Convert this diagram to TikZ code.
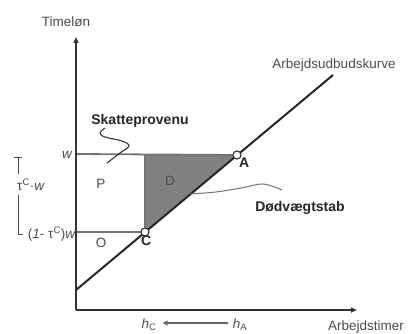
\documentclass[tikz,border=0pt]{standalone}
\usepackage{fontspec}
\setmainfont{Liberation Sans}
\usetikzlibrary{positioning, arrows.meta, calc}

\begin{document}
\begin{tikzpicture}[x=1pt, y=-1pt,
    lbl/.style={text=black!70, font=\fontsize{13.5}{15}\selectfont, inner sep=0pt},
    bold/.style={text=black!85, font=\fontsize{14}{16}\selectfont\bfseries, inner sep=0pt},
    pt/.style={circle, draw=black!85, fill=white, line width=0.9pt, minimum size=8pt, inner sep=0pt},
    axis/.style={line width=1.6pt, draw=black!80, -{Triangle[length=6pt, width=5pt]}},
    guide/.style={line width=1.8pt, draw=black!55}]
  \useasboundingbox (0,0) rectangle (410,334);
  % points
  \coordinate (orig) at (76,310);
  \coordinate (ytop) at (76,37);
  \coordinate (xend) at (357,310);
  \coordinate (s0) at (76,290);
  \coordinate (s1) at (333,75);
  \coordinate (wl) at (76,154);
  \coordinate (cl) at (76,232);
  \coordinate (dt) at (145,154);
  \node[pt] (A) at (237,155) {};
  \node[pt] (C) at (145,232) {};

  % deadweight triangle
  \fill[black!50] (dt) -- (A.center) -- (C.center) -- cycle;
  \draw[guide] (wl) -- (A);
  \draw[guide] (cl) -- (C);
  \draw[guide] (dt) -- (C);

  % axes and supply curve
  \draw[axis] (orig) -- (ytop);
  \draw[axis] (orig) -- (xend);
  \draw[line width=2pt, black!85] (s0) -- (s1);
  \node[pt] at (A) {};
  \node[pt] at (C) {};

  % labels
  \node[lbl] (tl) at (66,22) {Timeløn};
  \node[lbl] (ak) at (334,65) {Arbejdsudbudskurve};
  \node[lbl] (at) at (366,327) {Arbejdstimer};
  \node[lbl, anchor=east] (w) at (72,155) {\itshape w};
  \node[lbl, anchor=east] (cw) at (76,234) {(\textit{1}- τ\textsuperscript{C})\textit{w}};
  \node[lbl] (tw) at (31,185) {τ\textsuperscript{C}·\textit{w}};
  \node[lbl] (P) at (101,184) {P};
  \node[lbl] (O) at (101,243) {O};
  \node[lbl] (D) at (170,181) {D};
  \node[bold, below right=3pt and 2pt of A.center] (la) {A};
  \node[bold, below right=4pt and -4pt of C.center] (lc) {C};
  \node[bold] (sk) at (140,121) {Skatteprovenu};
  \node[bold] (dv) at (300,208) {Dødvægtstab};
  \node[lbl] (hc) at (149,325) {\textit{h}\textsubscript{C}};
  \node[lbl] (ha) at (240,325) {\textit{h}\textsubscript{A}};
  \draw[line width=1.4pt, black!60, -{Triangle[length=5pt, width=5pt]}] ($(ha.west)+(-5,-2)$) -- ($(hc.east)+(6,-2)$);

  % leader lines
  \draw[line width=1.1pt, black!80] plot[smooth, tension=0.6] coordinates {(105,128) (100,133) (105,137) (122,141) (129,146) (120,153) (107,163)};
  \draw[line width=1pt, black!55] plot[smooth] coordinates {(190,194) (216,192) (241,188) (263,184) (282,190)};

  % dimension bar
  \draw[line width=0.8pt, black!70] (14,157) -- (22,157) (18,157) -- (18,174);
  \draw[line width=0.8pt, black!70] (18,195) -- (18,234) -- (23,234);
\end{tikzpicture}
\end{document}
